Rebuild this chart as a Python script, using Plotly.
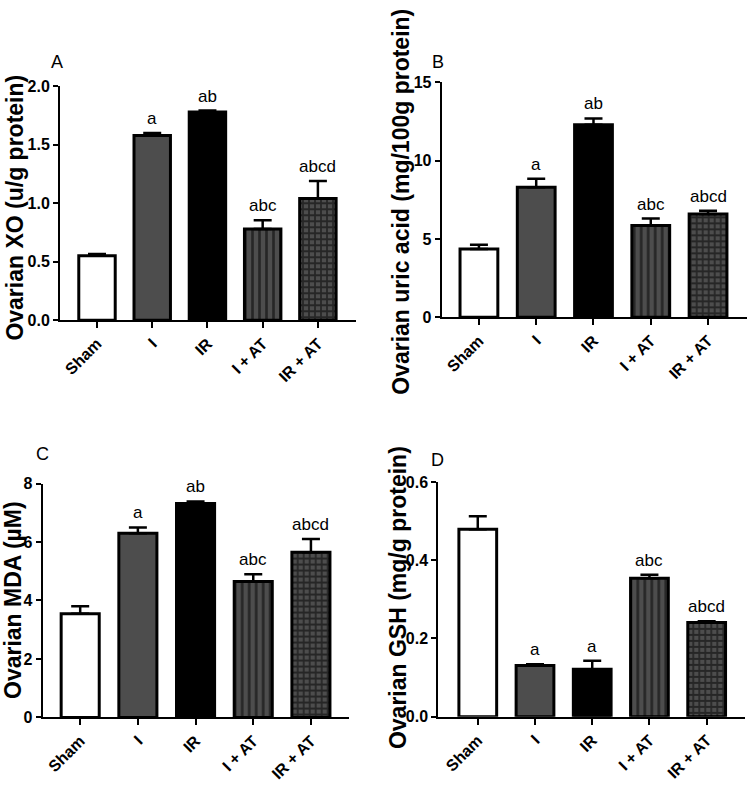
import plotly.graph_objects as go

W, H = 750, 791

groups = ["Sham", "I", "IR", "I + AT", "IR + AT"]

xo_mean = [0.55, 1.58, 1.78, 0.78, 1.04]
xo_err = [0.015, 0.02, 0.012, 0.075, 0.15]
xo_labels = ["", "a", "ab", "abc", "abcd"]

ua_mean = [4.35, 8.3, 12.3, 5.85, 6.6]
ua_err = [0.28, 0.55, 0.4, 0.45, 0.2]
ua_labels = ["", "a", "ab", "abc", "abcd"]

mda_mean = [3.55, 6.3, 7.32, 4.65, 5.65]
mda_err = [0.25, 0.2, 0.07, 0.25, 0.45]
mda_labels = ["", "a", "ab", "abc", "abcd"]

gsh_mean = [0.479, 0.131, 0.121, 0.354, 0.241]
gsh_err = [0.033, 0.003, 0.022, 0.009, 0.003]
gsh_labels = ["", "a", "a", "abc", "abcd"]

y_titles = ["Ovarian XO (u/g protein)", "Ovarian uric acid (mg/100g protein)",
            "Ovarian MDA (µM)", "Ovarian GSH (mg/g protein)"]
panel_letters = ["A", "B", "C", "D"]
y_max = [2.0, 15, 8, 0.6]
y_dtick = [0.5, 5, 2, 0.2]
y_fmt = [".1f", "d", "d", ".1f"]

# layout (pixel geometry)
x_px = [(60, 356), (441.7, 747), (42.7, 349), (438.3, 745)]
y_px = [(319, 80), (316, 76), (725, 486), (724.3, 484.3)]
x_rng = [(-0.67, 4.69), (-0.65, 4.68), (-0.65, 4.66), (-0.69, 4.67)]
title_pos = [(15, 204), (401, 198), (13, 605), (398, 602)]
letter_pos = [(57, 55), (438, 55), (42, 456), (437, 462)]

GRAY = "#4d4d4d"
fills = [
    dict(color="white"),
    dict(color=GRAY),
    dict(color="black"),
    dict(color=GRAY, pattern=dict(shape="|", fgcolor="black", bgcolor=GRAY, size=7, solidity=0.38)),
    dict(color=GRAY, pattern=dict(shape="+", fgcolor="black", bgcolor=GRAY, size=6, solidity=0.5)),
]

FONT = "Liberation Sans, Arial"

fig = go.Figure()
data = [(xo_mean, xo_err, xo_labels), (ua_mean, ua_err, ua_labels),
        (mda_mean, mda_err, mda_labels), (gsh_mean, gsh_err, gsh_labels)]

annotations = []
for p, (mean, err, labels) in enumerate(data):
    xa = "x" if p == 0 else f"x{p+1}"
    ya = "y" if p == 0 else f"y{p+1}"
    for i, g in enumerate(groups):
        mk = dict(line=dict(color="black", width=3))
        mk.update(fills[i])
        fig.add_trace(go.Bar(
            x=[i], y=[mean[i]], width=0.66, marker=mk,
            error_y=dict(type="data", array=[err[i]], arrayminus=[0], symmetric=False,
                         color="black", thickness=2.5, width=9),
            xaxis=xa, yaxis=ya, showlegend=False))
        if labels[i]:
            annotations.append(dict(
                x=i, y=mean[i] + err[i], xref=xa, yref=ya, text=labels[i],
                showarrow=False, yanchor="bottom", yshift=3,
                font=dict(family=FONT, size=17, color="black")))
    key = "" if p == 0 else str(p + 1)
    fig.layout["xaxis" + key] = dict(
        domain=[x_px[p][0] / W, x_px[p][1] / W], range=list(x_rng[p]), anchor=ya,
        tickmode="array", tickvals=list(range(5)), ticktext=groups, tickangle=-45,
        showline=True, linecolor="black", linewidth=2, ticks="outside", ticklen=6,
        tickwidth=2, tickcolor="black", showgrid=False, zeroline=False,
        tickfont=dict(family=FONT, size=16, color="black", weight="bold"))
    fig.layout["yaxis" + key] = dict(
        domain=[1 - y_px[p][0] / H, 1 - y_px[p][1] / H], range=[0, y_max[p]], anchor=xa,
        dtick=y_dtick[p], tickformat=y_fmt[p],
        showline=True, linecolor="black", linewidth=2, ticks="outside", ticklen=5,
        tickwidth=2, tickcolor="black", showgrid=False, zeroline=False,
        tickfont=dict(family=FONT, size=16, color="black", weight="bold"))
    annotations.append(dict(
        x=title_pos[p][0] / W, y=1 - title_pos[p][1] / H, xref="paper", yref="paper",
        text=y_titles[p], textangle=-90, showarrow=False, xanchor="center", yanchor="middle",
        font=dict(family=FONT, size=23, color="black", weight="bold")))
    annotations.append(dict(
        x=letter_pos[p][0] / W, y=1 - letter_pos[p][1] / H, xref="paper", yref="paper",
        text=panel_letters[p], showarrow=False, xanchor="center", yanchor="middle",
        font=dict(family=FONT, size=18, color="black")))

fig.update_layout(
    autosize=True, margin=dict(l=0, r=0, t=0, b=0),
    paper_bgcolor="white", plot_bgcolor="white", bargap=0, hovermode=False,
    annotations=annotations)

fig.write_html(
    "out.html",
    default_width="100vw", default_height="100vh",
    config={"displayModeBar": False, "staticPlot": True, "responsive": True},
    post_script="document.body.style.margin='0';document.body.style.overflow='hidden';")
